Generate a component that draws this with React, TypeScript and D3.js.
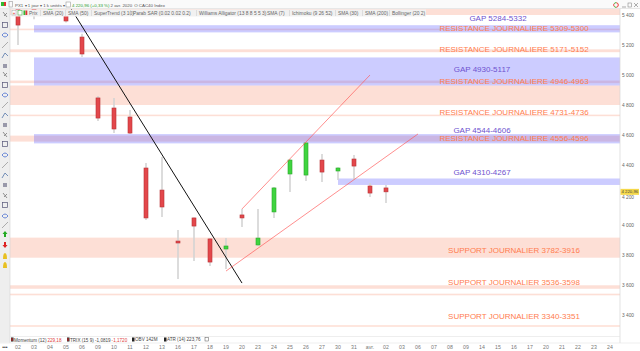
import React from "react";
import * as d3 from "d3";

// ---- data ----
const tradingDays = [
  "2020-03-02", "2020-03-03", "2020-03-04", "2020-03-05", "2020-03-06",
  "2020-03-09", "2020-03-10", "2020-03-11", "2020-03-12", "2020-03-13",
  "2020-03-16", "2020-03-17", "2020-03-18", "2020-03-19", "2020-03-20",
  "2020-03-23", "2020-03-24", "2020-03-25", "2020-03-26", "2020-03-27",
  "2020-03-30", "2020-03-31", "2020-04-01", "2020-04-02", "2020-04-03",
  "2020-04-06", "2020-04-07", "2020-04-08", "2020-04-09", "2020-04-14",
  "2020-04-15", "2020-04-16", "2020-04-17", "2020-04-20", "2020-04-21",
  "2020-04-22", "2020-04-23", "2020-04-24",
];

const candleDates = [
  "2020-03-02", "2020-03-03", "2020-03-04", "2020-03-05", "2020-03-06",
  "2020-03-09", "2020-03-10", "2020-03-11", "2020-03-12", "2020-03-13",
  "2020-03-16", "2020-03-17", "2020-03-18", "2020-03-19", "2020-03-20",
  "2020-03-23", "2020-03-24", "2020-03-25", "2020-03-26", "2020-03-27",
  "2020-03-30", "2020-03-31", "2020-04-01", "2020-04-02",
];
const opens = [5440, 5460, 5430, 5430, 5253, 4847, 4780, 4720, 4380, 4233, 3893, 4047, 3907, 3840, 4067, 3867, 4087, 4340, 4333, 4433, 4360, 4440, 4260, 4247];
const highs = [5470, 5490, 5480, 5460, 5275, 4860, 4847, 4767, 4413, 4453, 3967, 4050, 3913, 3913, 4107, 4107, 4253, 4440, 4553, 4473, 4385, 4467, 4280, 4267];
const lows = [5200, 5372, 5410, 5350, 5120, 4693, 4613, 4607, 4033, 4053, 3640, 3760, 3727, 3707, 3987, 3860, 4047, 4220, 4293, 4287, 4300, 4300, 4187, 4147];
const closes = [5333, 5420, 5470, 5360, 5140, 4713, 4640, 4613, 4047, 4120, 3880, 3993, 3753, 3860, 4047, 3913, 4247, 4433, 4547, 4353, 4380, 4393, 4213, 4221];
const lastPrice = 4220.96;

// support / resistance zones (salmon)
const zoneLows = [5400, 5300, 5152, 4946, 4800, 4731, 4556, 3782, 3575, 3536, 3322];
const zoneHighs = [5440, 5309, 5171, 4963, 4930, 4736, 4596, 3916, 3598, 3542, 3332];

// gap zones (blue)
const gapLows = [5284, 4930, 4544, 4267];
const gapHighs = [5332, 5117, 4606, 4310];
const gapStarts = ["2020-03-03", "2020-03-03", "2020-03-03", "2020-03-30"];

// annotation texts
const labelTexts = [
  "GAP 5284-5332", "RESISTANCE JOURNALIERE 5309-5300", "RESISTANCE JOURNALIERE 5171-5152",
  "GAP 4930-5117", "RESISTANCE JOURNALIERE 4946-4963", "RESISTANCE JOURNALIERE 4731-4736",
  "GAP 4544-4606", "RESISTANCE JOURNALIERE 4556-4596", "GAP 4310-4267",
  "SUPPORT JOURNALIER 3782-3916", "SUPPORT JOURNALIER 3536-3598", "SUPPORT JOURNALIER 3340-3351",
];
const labelDates = [
  "2020-04-15", "2020-04-16", "2020-04-16", "2020-04-14", "2020-04-16", "2020-04-16",
  "2020-04-14", "2020-04-16", "2020-04-14", "2020-04-16", "2020-04-16", "2020-04-16",
];
const labelPrices = [5380, 5313, 5167, 5040, 4960, 4753, 4633, 4580, 4347, 3827, 3620, 3387];
const labelKinds = ["gap", "zone", "zone", "gap", "zone", "zone", "gap", "zone", "gap", "zone", "zone", "zone"];

// drawn trend lines
const lineStartDates = ["2020-03-05", "2020-03-20", "2020-03-19"];
const lineStartPrices = [5496, 4107, 3693];
const lineEndDates = ["2020-03-20", "2020-04-01", "2020-04-06"];
const lineEndPrices = [3613, 5000, 4607];
const lineKinds = ["black", "red", "red"];

const legendItems = [
  "Prix", "SMA (20)", "SMA (50)", "SuperTrend (3 10)", "Parab SAR (0.02 0.02 0.2)",
  "Williams Alligator (13 8 8 5 5 3)", "SMA (7)", "Ichimoku (9 26 52)", "SMA (30)",
  "SMA (200)", "Bollinger (20 2)",
];

const FONT = "'Liberation Sans', Arial, sans-serif";

const frLocale = d3.formatLocale({ decimal: ",", thousands: " ", grouping: [3], currency: ["", " €"] });
const fmtInt = frLocale.format(",");
const fmtPrice = frLocale.format(",.2f");

function dayLabel(iso: string) {
  const d = +iso.slice(8, 10);
  const m = +iso.slice(5, 7);
  if (d === 1 && m === 4) return "avr.";
  return iso.slice(8, 10);
}

export default function App() {
  const plotL = 10, plotR = 620, plotT = 9, plotB = 336;
  const x = d3.scalePoint<string>().domain(tradingDays).range([18, 610]);
  const y = d3.scaleLinear().domain([3400, 5400]).range([315, 15]);
  const yTicks = y.ticks(10);
  const bodyW = 4;

  // legend layout (x positions of items)
  const legendX = [29, 43, 68, 94, 133, 199, 267, 292, 338, 365, 392];

  const toolIcons = [15, 25, 35, 45, 55, 66, 75, 85, 95, 105, 115, 125, 135, 144, 155, 165, 175, 185, 196, 205, 216, 225];

  return (
    <svg width={640} height={351} style={{ position: "absolute", left: 0, top: 0, display: "block", background: "#fff" }} fontFamily={FONT}>
      <defs>
        <clipPath id="plotClip">
          <rect x={plotL} y={plotT} width={plotR - plotL} height={plotB - plotT} />
        </clipPath>
      </defs>
      <rect x={0} y={0} width={640} height={351} fill="#fff" />

      <g clipPath="url(#plotClip)">
        {/* zones */}
        {zoneLows.map((lo, i) => {
          const y1 = y(zoneHighs[i]);
          const h = Math.max(y(lo) - y1, 1.6);
          return <rect key={"z" + i} x={plotL} y={y1} width={plotR - plotL} height={h} fill="rgb(250,150,120)" opacity={0.3} />;
        })}
        {gapLows.map((lo, i) => {
          const y1 = y(gapHighs[i]);
          const x0 = x(gapStarts[i]) as number;
          return <rect key={"g" + i} x={x0} y={y1} width={plotR - x0} height={y(lo) - y1} fill="rgb(100,100,255)" opacity={0.33} />;
        })}

        {/* candles */}
        {candleDates.map((d, i) => {
          const cx = x(d) as number;
          const up = closes[i] >= opens[i];
          const top = y(Math.max(opens[i], closes[i]));
          const bot = y(Math.min(opens[i], closes[i]));
          return (
            <g key={"c" + i}>
              <line x1={cx} x2={cx} y1={y(highs[i])} y2={y(lows[i])} stroke="#d4d4d4" strokeWidth={1.6} />
              <rect
                x={cx - bodyW / 2}
                y={top}
                width={bodyW}
                height={Math.max(bot - top, 1.6)}
                fill={up ? "#3fd43f" : "#e3474b"}
                stroke={up ? "#28a828" : "#b83236"}
                strokeWidth={0.6}
              />
            </g>
          );
        })}

        {/* trend lines */}
        {lineStartDates.map((d, i) => (
          <line
            key={"l" + i}
            x1={x(d) as number}
            y1={y(lineStartPrices[i])}
            x2={x(lineEndDates[i]) as number}
            y2={y(lineEndPrices[i])}
            stroke={lineKinds[i] === "black" ? "#111" : "#ff5a5a"}
            strokeWidth={lineKinds[i] === "black" ? 1 : 0.8}
            opacity={lineKinds[i] === "black" ? 1 : 0.85}
          />
        ))}

        {/* annotation labels */}
        {labelTexts.map((t, i) => (
          <text
            key={"t" + i}
            x={x(labelDates[i]) as number}
            y={y(labelPrices[i])}
            textAnchor="middle"
            dominantBaseline="central"
            fontSize={8}
            fill={labelKinds[i] === "gap" ? "#6e52cf" : "#ff7d4f"}
          >
            {t}
          </text>
        ))}
      </g>

      {/* legend row */}
      <rect x={11} y={9.5} width={415} height={7} fill="#f1f1f1" />
      <rect x={12} y={10.5} width={4} height={4.5} fill="#fff" stroke="#999" strokeWidth={0.4} />
      <text x={14} y={13.2} fontSize={4.5} textAnchor="middle" dominantBaseline="central" fill="#d33">+</text>
      <rect x={18} y={10.5} width={4} height={4.5} fill="#fff" stroke="#3a3" strokeWidth={0.5} />
      <rect x={23.5} y={10.5} width={1.8} height={4.5} fill="#3b3" />
      <rect x={25.5} y={10.5} width={1.8} height={4.5} fill="#d33" />
      {legendItems.map((t, i) => (
        <g key={"lg" + i}>
          <text x={legendX[i]} y={13.2} fontSize={4.9} dominantBaseline="central" fill="#666">{t}</text>
          {i > 0 && <line x1={legendX[i] - 2.5} x2={legendX[i] - 2.5} y1={10} y2={16} stroke="#c8c8c8" strokeWidth={0.5} />}
        </g>
      ))}

      {/* top toolbar */}
      <rect x={0} y={0} width={640} height={8.5} fill="#fafafa" />
      <line x1={0} x2={640} y1={8.5} y2={8.5} stroke="#d8d8d8" strokeWidth={0.6} />
      <rect x={1} y={2} width={3} height={4} fill="#3b3" />
      <rect x={4} y={2} width={2} height={4} fill="#d33" />
      <rect x={9} y={1.5} width={3.5} height={5.5} fill="none" stroke="#888" strokeWidth={0.5} />
      <text x={15} y={5} fontSize={4.4} dominantBaseline="central" fill="#555">
        {"PX1 ▾  1 jour ▾  1 k unités ▾"}
      </text>
      <rect x={66} y={2} width={4.5} height={5} fill="#fff" stroke="#888" strokeWidth={0.5} />
      <text x={72} y={5} fontSize={4.4} dominantBaseline="central" fill="#555">
        <tspan fill="#2a9a2a">{"4 220,96 (+0,33 %)"}</tspan>
        <tspan dx={1}>{"2 avr. 2020"}</tspan>
        <tspan dx={2}>{"O CAC40 Index"}</tspan>
      </text>
      {/* window icons top right */}
      <circle cx={616} cy={5} r={2.3} fill="none" stroke="#e33" strokeWidth={1} strokeDasharray="3 2" />
      <circle cx={616} cy={5} r={2.3} fill="none" stroke="#3b3" strokeWidth={1} strokeDasharray="2 3" strokeDashoffset={-3} />
      <line x1={622} x2={626} y1={7} y2={7} stroke="#777" strokeWidth={0.6} />
      <rect x={628} y={3} width={3.5} height={4} fill="none" stroke="#777" strokeWidth={0.5} />
      <path d="M634,3 L638,7 M638,3 L634,7" stroke="#777" strokeWidth={0.6} />

      {/* left toolbar */}
      <rect x={0} y={8.5} width={10} height={334} fill="#eeeeee" />
      <line x1={10} x2={10} y1={8.5} y2={343} stroke="#d5d5d5" strokeWidth={0.6} />
      {toolIcons.map((iy, i) => {
        const k = i % 6;
        if (k === 0) return <path key={"ti" + i} d={`M3,${iy - 3} L7,${iy + 2} M4,${iy + 1} L7,${iy - 2}`} stroke="#777" strokeWidth={0.8} fill="none" />;
        if (k === 1) return <rect key={"ti" + i} x={2.5} y={iy - 2.5} width={5} height={5} fill="none" stroke="#557" strokeWidth={0.7} />;
        if (k === 2) return <path key={"ti" + i} d={`M2,${iy} Q5,${iy - 4} 8,${iy} Q5,${iy + 4} 2,${iy}`} stroke="#4a6fd0" strokeWidth={0.8} fill="none" />;
        if (k === 3) return <line key={"ti" + i} x1={2} y1={iy + 3} x2={8} y2={iy - 3} stroke="#999" strokeWidth={0.8} />;
        if (k === 4) return <path key={"ti" + i} d={`M2,${iy + 3} L5,${iy - 2} L8,${iy + 1}`} stroke="#5577aa" strokeWidth={0.8} fill="none" />;
        return <rect key={"ti" + i} x={3} y={iy - 2} width={4} height={4} fill="#99a" />;
      })}
      <path d="M5,231 L2.5,234 L4,234 L4,237 L6,237 L6,234 L7.5,234 Z" fill="#2a2" />
      <path d="M5,248 L2.5,245 L4,245 L4,242 L6,242 L6,245 L7.5,245 Z" fill="#d22" />
      <path d="M3,259 Q3,253 5,253 Q7,253 7,259 Z" fill="#e8c020" />
      <path d="M3,268 Q3,262 5,262 Q7,262 7,268 Z" fill="#e8c020" />

      {/* right axis */}
      <line x1={plotR} x2={plotR} y1={8.5} y2={343} stroke="#d5d5d5" strokeWidth={0.7} />
      {yTicks.map((t) => (
        <text key={"yt" + t} x={622} y={y(t) + (Math.abs(y(t) - y(lastPrice)) < 6 ? 2 : 0)} fontSize={4.8} dominantBaseline="central" fill="#666">{fmtInt(t)}</text>
      ))}
      <rect x={620.5} y={y(lastPrice) - 3} width={18.5} height={6} fill="#f5d84a" />
      <text x={621.5} y={y(lastPrice)} fontSize={4.3} dominantBaseline="central" fill="#444">{fmtPrice(lastPrice)}</text>

      {/* bottom indicator strip */}
      <line x1={plotL} x2={plotR} y1={336.5} y2={336.5} stroke="#e2e2e2" strokeWidth={0.6} />
      <rect x={11} y={337.5} width={2.5} height={4} fill="#222" />
      <rect x={11.5} y={338} width={1} height={3} fill="#e33" />
      <text x={14} y={339.5} fontSize={4.6} dominantBaseline="central" fill="#444">
        <tspan>Momentum (12)</tspan>
        <tspan dx={1} fill="#e04040">229,18</tspan>
      </text>
      <rect x={67} y={337.5} width={2.5} height={4} fill="#222" />
      <rect x={67.5} y={338} width={1} height={3} fill="#e33" />
      <text x={70} y={339.5} fontSize={4.6} dominantBaseline="central" fill="#444">
        <tspan>TRIX (15 9) -1,0819</tspan>
        <tspan dx={1} fill="#e04040">-1,1720</tspan>
      </text>
      <rect x={132} y={337.5} width={2.5} height={4} fill="#222" />
      <text x={135} y={339.5} fontSize={4.6} dominantBaseline="central" fill="#444">OBV 142M</text>
      <rect x={164} y={337.5} width={2.5} height={4} fill="#222" />
      <text x={167} y={339.5} fontSize={4.6} dominantBaseline="central" fill="#444">ATR (14) 223,76</text>
      <rect x={205} y={337.5} width={3.5} height={3.5} fill="none" stroke="#555" strokeWidth={0.5} />

      {/* x axis */}
      <line x1={0} x2={640} y1={343} y2={343} stroke="#e4e4e4" strokeWidth={0.6} />
      {tradingDays.map((d) => (
        <text key={"xt" + d} x={x(d) as number} y={346.7} fontSize={5.2} textAnchor="middle" dominantBaseline="central" fill="#777">{dayLabel(d)}</text>
      ))}
      <text x={5} y={346.5} fontSize={5} textAnchor="middle" dominantBaseline="central" fill="#333">•••</text>
    </svg>
  );
}
